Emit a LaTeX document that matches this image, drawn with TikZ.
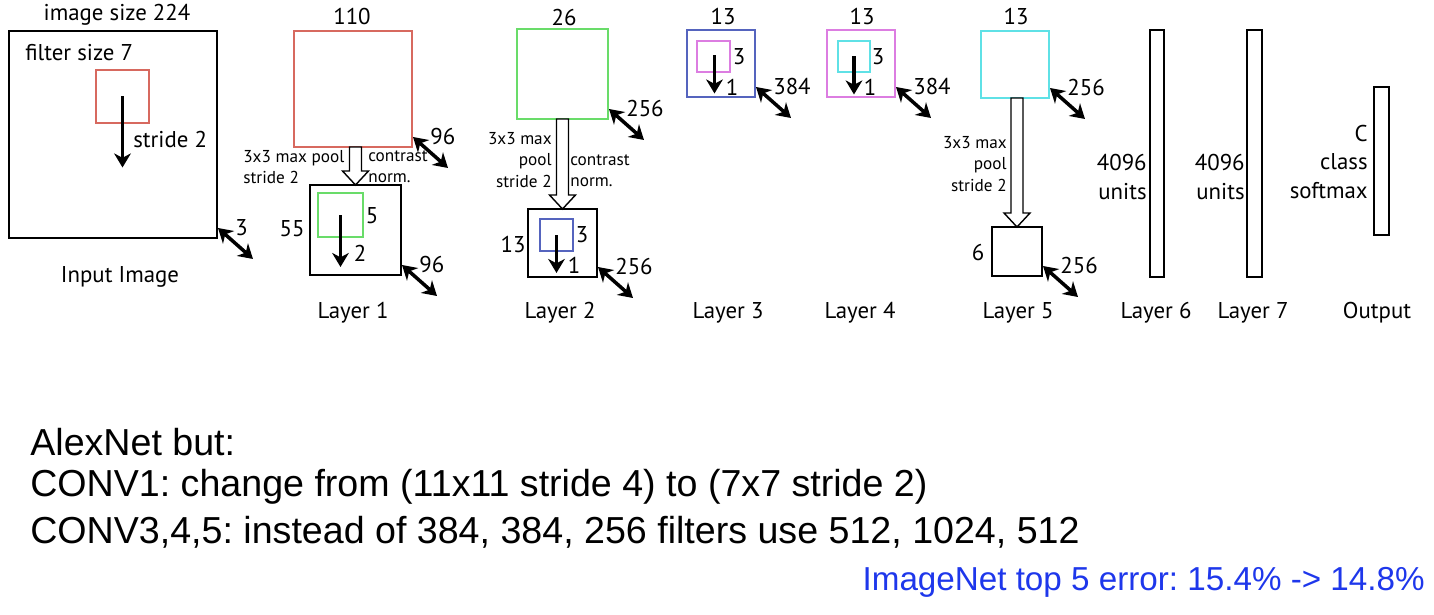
\documentclass[tikz,border=0pt]{standalone}
\usepackage{fontspec}
\setmainfont{Liberation Sans}
\newfontfamily\diagfont{PT Sans}
\usetikzlibrary{arrows.meta,calc}
\frenchspacing

\definecolor{fred}{RGB}{215,105,95}
\definecolor{fgreen}{RGB}{105,220,105}
\definecolor{fblue}{RGB}{85,100,190}
\definecolor{fmagenta}{RGB}{220,125,225}
\definecolor{fcyan}{RGB}{95,225,230}
\definecolor{noteblue}{RGB}{30,55,235}

% hollow pooling arrow from one map down to the next
\newcommand{\poolarrow}[2]{%
  \coordinate (tmp) at (#2.north |- #1.south);
  \draw[pool] ([shift={(-6,0)}]tmp) -- ([shift={(-6,-14)}]#2.north)
    -- ([shift={(-13,-14)}]#2.north) -- (#2.north)
    -- ([shift={(13,-14)}]#2.north) -- ([shift={(6,-14)}]#2.north)
    -- ([shift={(6,0)}]tmp) -- cycle;}

\begin{document}
\begin{tikzpicture}[x=0.02cm, y=-0.02cm,
    box/.style={draw, line width=0.8pt, inner sep=0pt, outer sep=0pt},
    lbl/.style={font=\diagfont\fontsize{13}{16}\selectfont, inner sep=0pt},
    note/.style={font=\diagfont\fontsize{9.8}{12}\selectfont, inner sep=0pt},
    dim/.style={line width=2pt, {Stealth[length=8pt,width=9.5pt,inset=2.5pt]}-{Stealth[length=8pt,width=9.5pt,inset=2.5pt]}},
    down/.style={line width=2pt, -{Stealth[length=8pt,width=9.5pt,inset=2.5pt]}},
    pool/.style={draw, line width=0.8pt, fill=white},
    big/.style={font=\fontsize{21.4}{25}\selectfont, inner sep=0pt, anchor=west}]
  \useasboundingbox (0,0) rectangle (1434,615);

  % maps
  \node[box, minimum width=4.16cm, minimum height=4.14cm] (input) at (113,134.5) {};
  \node[box, draw=fred, minimum width=1.06cm, minimum height=1.06cm] (filt) at (122.5,96.5) {};
  \node[box, draw=fred, minimum width=2.36cm, minimum height=2.32cm] (l1big) at (353,89) {};
  \node[box, minimum width=1.82cm, minimum height=1.80cm] (l1small) at (355.5,230) {};
  \node[box, draw=fgreen, minimum width=0.90cm, minimum height=0.88cm] (l1filt) at (340.5,215) {};
  \node[box, draw=fgreen, minimum width=1.82cm, minimum height=1.80cm] (l2big) at (562.5,74) {};
  \node[box, minimum width=1.38cm, minimum height=1.36cm] (l2small) at (562.5,243) {};
  \node[box, draw=fblue, minimum width=0.66cm, minimum height=0.64cm] (l2filt) at (556.5,235) {};
  \node[box, draw=fblue, minimum width=1.36cm, minimum height=1.34cm] (l3) at (721,63.5) {};
  \node[box, draw=fmagenta, minimum width=0.66cm, minimum height=0.62cm] (l3filt) at (713.5,56.5) {};
  \node[box, draw=fmagenta, minimum width=1.36cm, minimum height=1.34cm] (l4) at (861,63.5) {};
  \node[box, draw=fcyan, minimum width=0.64cm, minimum height=0.62cm] (l4filt) at (854,56.5) {};
  \node[box, draw=fcyan, minimum width=1.36cm, minimum height=1.34cm] (l5big) at (1015,64.5) {};
  \node[box, minimum width=1.00cm, minimum height=0.98cm] (l5small) at (1017,251.5) {};
  \node[box, minimum width=0.28cm, minimum height=4.94cm] (l6) at (1157,153.5) {};
  \node[box, minimum width=0.30cm, minimum height=4.94cm] (l7) at (1254.5,153.5) {};
  \node[box, minimum width=0.30cm, minimum height=2.96cm] (out) at (1381.5,161) {};

  % pooling
  \poolarrow{l1big}{l1small}
  \poolarrow{l2big}{l2small}
  \poolarrow{l5big}{l5small}

  % strides
  \draw[down] (filt.center) -- ++(0,71);
  \draw[down] (l1filt.center) -- ++(0,52);
  \draw[down] (l2filt.center) -- ++(0,38);
  \draw[down] ([shift={(1,-1)}]l3filt.center) -- ++(0,38);
  \draw[down] (l4filt.center) -- ++(0,38);

  % depths
  \foreach \b/\n in {input/3, l1big/96, l1small/96, l2big/256, l2small/256,
                     l3/384, l4/384, l5big/256, l5small/256} {
    \draw[dim] ([shift={(1,-10)}]\b.south east) coordinate (d\b) -- ++(35,31);
    \node[lbl, anchor=west] at ([shift={(17,0)}]d\b) {\n};
  }

  % labels
  \node[lbl] (tinput) at (117,15) {image size 224};
  \node[lbl, anchor=west] (tfilt) at (25,53) {filter size 7};
  \node[lbl, anchor=west] (tstride) at (133,140) {stride 2};
  \node[lbl] (ninput) at (120,277) {Input Image};

  \node[lbl] (t1) at (352,17) {110};
  \node[note, anchor=west, align=left] (p1) at (243,167) {3x3 max pool\\stride 2};
  \node[note, anchor=west, align=left] (c1) at (368,167) {contrast\\norm.};
  \node[lbl] (s1) at (292,229) {55};
  \node[lbl] (f1) at (372,216) {5};
  \node[lbl] (r1) at (360,253) {2};
  \node[lbl] (n1) at (353,313) {Layer 1};

  \node[lbl] (t2) at (564,18) {26};
  \node[note, anchor=east, align=right] (p2) at (552,160) {3x3 max\\pool\\stride 2};
  \node[note, anchor=west, align=left] (c2) at (570,171) {contrast\\norm.};
  \node[lbl] (s2) at (513,245) {13};
  \node[lbl] (f2) at (582,235) {3};
  \node[lbl] (r2) at (574,265) {1};
  \node[lbl] (n2) at (560,313) {Layer 2};

  \node[lbl] (t3) at (723,17) {13};
  \node[lbl] (f3) at (739,57) {3};
  \node[lbl] (r3) at (732,87) {1};
  \node[lbl] (n3) at (728,313) {Layer 3};

  \node[lbl] (t4) at (862,17) {13};
  \node[lbl] (f4) at (878,57) {3};
  \node[lbl] (r4) at (870,87) {1};
  \node[lbl] (n4) at (860,313) {Layer 4};

  \node[lbl] (t5) at (1016,17) {13};
  \node[note, anchor=east, align=right] (p5) at (1007,164) {3x3 max\\pool\\stride 2};
  \node[lbl] (s5) at (978,253) {6};
  \node[lbl] (n5) at (1018,313) {Layer 5};

  \node[lbl, anchor=east, align=right] (u6) at (1147,177) {4096\\units};
  \node[lbl] (n6) at (1156,313) {Layer 6};
  \node[lbl, anchor=east, align=right] (u7) at (1245,177) {4096\\units};
  \node[lbl] (n7) at (1253,313) {Layer 7};
  \node[lbl, anchor=east, align=right] (uo) at (1368,162) {C\\class\\softmax};
  \node[lbl] (no) at (1377,313) {Output};

  % notes
  \node[big] (alex) at (30,442) {AlexNet but:};
  \node[big] (conv1) at (30,487) {CONV1: change from (11x11 stride 4) to (7x7 stride 2)};
  \node[big] (conv3) at (30,532) {CONV3,4,5: instead of 384, 384, 256 filters use 512, 1024, 512};
  \node[big, anchor=east, text=noteblue, font=\fontsize{18.9}{23}\selectfont] (err) at (1425,582) {ImageNet top 5 error: 15.4\% -> 14.8\%};
\end{tikzpicture}
\end{document}
